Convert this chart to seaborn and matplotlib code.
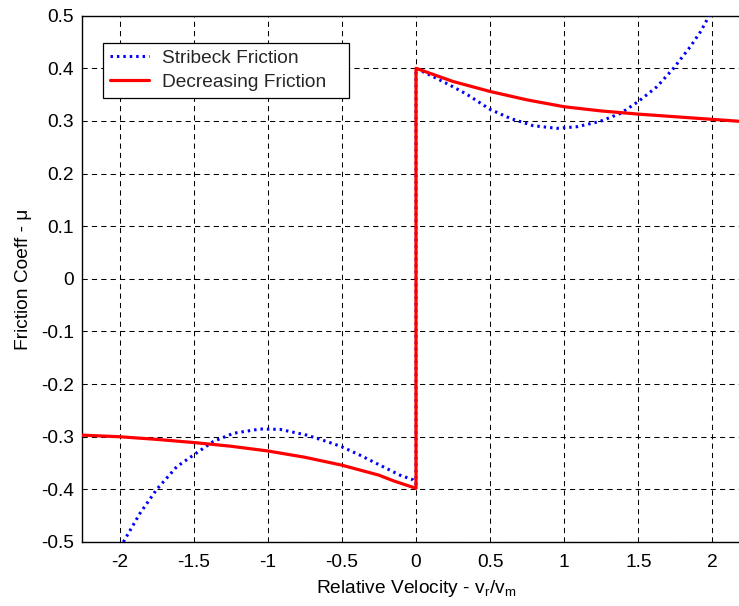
import matplotlib
matplotlib.use("Agg")
import matplotlib.pyplot as plt
import seaborn as sns
import pandas as pd

# ---- data ----
stribeck_v = [-1.974, -1.862, -1.749, -1.614, -1.502, -1.367, -1.232, -1.052, -0.917,
              -0.737, -0.602, -0.501, -0.378, -0.243, -0.108, -0.018, 0.0,
              0.0, 0.117, 0.229, 0.341, 0.5, 0.635, 0.79, 0.95, 1.085, 1.24,
              1.38, 1.5, 1.625, 1.737, 1.85, 1.92, 1.978]
stribeck_mu = [-0.500, -0.4455, -0.400, -0.357, -0.335, -0.309, -0.2935, -0.2853, -0.286,
               -0.297, -0.309, -0.319, -0.335, -0.354, -0.373, -0.382, -0.390,
               0.400, 0.384, 0.368, 0.351, 0.322, 0.305, 0.291, 0.286, 0.289, 0.299,
               0.3145, 0.337, 0.365, 0.400, 0.441, 0.470, 0.500]

decreasing_v = [-2.25, -2.0, -1.75, -1.5, -1.25, -1.0, -0.75, -0.5, -0.25, -0.15, 0.0,
                0.0, 0.15, 0.25, 0.5, 0.75, 1.0, 1.25, 1.5, 1.75, 2.0, 2.25]
decreasing_mu = [-0.297, -0.300, -0.305, -0.311, -0.318, -0.327, -0.339, -0.354, -0.373, -0.384, -0.398,
                 0.400, 0.385, 0.375, 0.356, 0.340, 0.327, 0.319, 0.313, 0.308, 0.303, 0.298]

x_ticks = [-2, -1.5, -1, -0.5, 0, 0.5, 1, 1.5, 2]
y_ticks = [-0.5, -0.4, -0.3, -0.2, -0.1, 0, 0.1, 0.2, 0.3, 0.4, 0.5]
x_tick_labels = ["-2", "-1.5", "-1", "-0.5", "0", "0.5", "1", "1.5", "2"]
y_tick_labels = ["-0.5", "-0.4", "-0.3", "-0.2", "-0.1", "0", "0.1", "0.2", "0.3", "0.4", "0.5"]

FS = 13.8

sns.set_theme(style="white")
plt.rcParams['font.family'] = ['Liberation Sans', 'DejaVu Sans']
plt.rcParams['mathtext.fontset'] = 'custom'
plt.rcParams['mathtext.rm'] = 'Liberation Sans'

fig = plt.figure(figsize=(7.39, 6.06), dpi=100)
fig.patch.set_facecolor('white')
ax = fig.add_axes([82 / 739, 64 / 606, 668 / 739, 526.3 / 606])

df_s = pd.DataFrame({"v": stribeck_v, "mu": stribeck_mu})
df_d = pd.DataFrame({"v": decreasing_v, "mu": decreasing_mu})

sns.lineplot(data=df_s, x="v", y="mu", sort=False, estimator=None, ax=ax,
             color=(0, 0, 1), lw=2.2, linestyle=(0, (0.8, 1.3)),
             label="Stribeck Friction", zorder=3)
sns.lineplot(data=df_d, x="v", y="mu", sort=False, estimator=None, ax=ax,
             color=(1, 0, 0), lw=2.3, label="Decreasing Friction", zorder=4)

ax.set_xlim(-2.253, 2.253)
ax.set_ylim(-0.5, 0.5)
ax.set_xticks(x_ticks)
ax.set_xticklabels(x_tick_labels)
ax.set_yticks(y_ticks)
ax.set_yticklabels(y_tick_labels)

ax.grid(True, color='black', linestyle=(0, (5, 4)), lw=0.75)
for s in ax.spines.values():
    s.set_color('black')
    s.set_linewidth(1.0)
ax.tick_params(direction='in', length=4, width=0.8, colors='black', labelsize=FS)
ax.tick_params(axis='x', pad=8.9)
ax.tick_params(axis='y', pad=5.8)

ax.set_xlabel(r'Relative Velocity - $\mathregular{v_r/v_m}$', fontsize=FS, color='black', labelpad=5)
ax.set_ylabel('Friction Coeff - \u03bc', fontsize=FS, color='black', labelpad=6.5)

leg = ax.legend(loc='upper left',
                bbox_to_anchor=(21 / 668, 1 - (98 - 15.7) / 526.3, 246 / 668, 55 / 526.3),
                mode='expand', borderaxespad=0, fontsize=FS, frameon=True, fancybox=False,
                handlelength=2.03, handletextpad=0.68, borderpad=0.35, labelspacing=0.34)
leg.get_frame().set_edgecolor('black')
leg.get_frame().set_linewidth(0.9)
leg.get_frame().set_alpha(1)

fig.savefig("out.png", dpi=100)
